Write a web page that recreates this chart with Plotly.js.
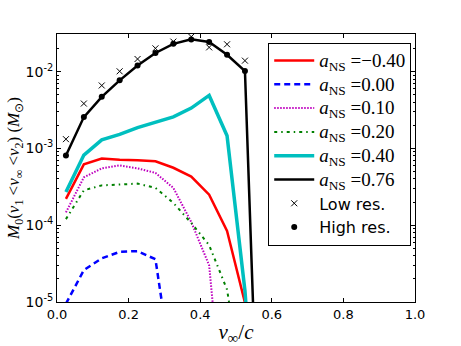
<!DOCTYPE html>
<html><head><meta charset="utf-8">
<script src="https://cdn.plot.ly/plotly-3.0.1.min.js"></script>
<style>body{margin:0;background:#fff}#chart{width:461px;height:346px}</style>
</head><body><div id="chart"></div>
<script>
const v = [0.025,0.075,0.125,0.175,0.225,0.275,0.325,0.375,0.425,0.475,0.525,0.575];
const mNeg040 = [2.2e-4,6.2e-4,7.4e-4,7.1e-4,7.0e-4,6.8e-4,5.6e-4,4.3e-4,2.5e-4,8.4e-5,9.8e-6];
const m000 = [9.5e-6,2.6e-5,3.7e-5,4.5e-5,4.6e-5,3.6e-5,1.0e-6];
const m010 = [1.47e-4,4.2e-4,5.5e-4,6.0e-4,5.5e-4,4.8e-4,3.06e-4,1.1e-4,3.0e-5,1e-7];
const m020 = [1.2e-4,2.85e-4,3.3e-4,3.4e-4,3.48e-4,3.06e-4,1.95e-4,1.07e-4,5.5e-5,1.45e-5,5e-7];
const m040 = [2.7e-4,8.2e-4,1.29e-3,1.52e-3,1.87e-3,2.2e-3,2.58e-3,3.35e-3,4.9e-3,1.46e-3,1.4e-5,1e-8];
const m076 = [8.1e-4,2.56e-3,4.7e-3,7.7e-3,1.2e-2,1.75e-2,2.3e-2,2.63e-2,2.43e-2,1.66e-2,1.02e-2,2e-9];
const lowRes = [1.32e-3,3.84e-3,6.6e-3,1.01e-2,1.46e-2,2.01e-2,2.46e-2,2.85e-2,2.07e-2,2.27e-2,1.39e-2];
const highRes = m076.slice(0,11);
const spinLabels = ['\u22120.40','0.00','0.10','0.20','0.40','0.76'];
const yTickVals = [1e-5,1e-4,1e-3,1e-2];
const yTickText = ['10<sup>-5</sup>','10<sup>-4</sup>','10<sup>-3</sup>','10<sup>-2</sup>'];
const xTickVals = [0,0.2,0.4,0.6,0.8,1.0];
const xTickText = ['0.0','0.2','0.4','0.6','0.8','1.0'];
const minorMant = [2,3,4,5,6,7,8,9];
const minorDecades = [1e-5,1e-4,1e-3,1e-2];

const yMinor = [];
minorDecades.forEach(d=>minorMant.forEach(m=>yMinor.push(m*d)));

const SER = "'Liberation Serif', serif";
function aLabel(s){
  return '<span style="font-family:Liberation Serif;font-size:19px"><i>a</i><sub>NS</sub> =' + s + '</span>';
}
const sets = [mNeg040,m000,m010,m020,m040,m076];
const colors = ['#ff0000','#0000ff','#bf00bf','#008000','#00bfbf','#000000'];
const widths = [2.5,2.5,2,2,3.5,2.5];
const dashes = ['solid','6px,4px','1.5px,1.5px','3px,4px,1.5px,4px','solid','solid'];
const traces = sets.map((ys,i)=>({
  x: v.slice(0, ys.length), y: ys, mode:'lines', name: aLabel(spinLabels[i]),
  line:{color:colors[i], width:widths[i], dash:dashes[i]}
}));
traces.push({x: v.slice(0,lowRes.length), y: lowRes, mode:'markers', name:'Low res.',
  marker:{symbol:'x-thin-open', size:6, color:'black', line:{width:1, color:'black'}}});
traces.push({x: v.slice(0,highRes.length), y: highRes, mode:'markers', name:'High res.',
  marker:{symbol:'circle', size:6, color:'black'}});

const layout = {
  width:461, height:346,
  margin:{l:57, r:46, t:34, b:44},
  paper_bgcolor:'#fff', plot_bgcolor:'#fff',
  font:{family:'DejaVu Sans', size:12, color:'black'},
  showlegend:true,
  legend:{x:0.59, y:0.968, xanchor:'left', yanchor:'top', bordercolor:'black', borderwidth:1,
    itemwidth:40, bgcolor:'#fff', font:{family:'DejaVu Sans', size:16, color:'black'}},
  xaxis:{range:[0,1], tickvals:xTickVals, ticktext:xTickText, tickfont:{size:13},
    ticks:'inside', ticklen:4, tickcolor:'black', showline:true, linecolor:'black', linewidth:1,
    mirror:'allticks', showgrid:false, zeroline:false,
    title:{text:'<i>v</i><sub>\u221e</sub>/<i>c</i>', font:{family:SER, size:21}, standoff:11}},
  yaxis:{type:'log', range:[-5,-1.51], tickvals:yTickVals, ticktext:yTickText, tickfont:{size:14},
    ticks:'inside', ticklen:4, tickcolor:'black', showline:true, linecolor:'black', linewidth:1,
    mirror:'allticks', showgrid:false, zeroline:false,
    minor:{tickmode:'array', tickvals:yMinor, ticks:'inside', ticklen:2, tickcolor:'black', showgrid:false},
    title:{text:'<i>M</i><sub>0</sub>(<i>v</i><sub>1</sub> <<i>v</i><sub>\u221e</sub> <<i>v</i><sub>2</sub>) (<i>M</i><sub>\u2299</sub>)', font:{family:SER, size:17}, standoff:0}}
};
Plotly.newPlot('chart', traces, layout, {staticPlot:true, displayModeBar:false});
</script></body></html>
